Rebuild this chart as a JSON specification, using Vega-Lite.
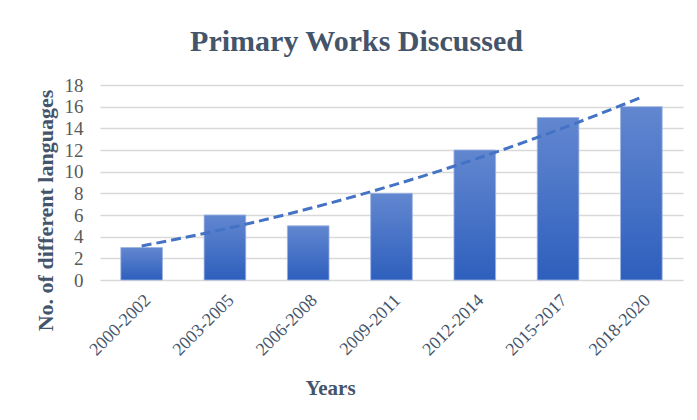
{
  "$schema": "https://vega.github.io/schema/vega-lite/v6.json",
  "autosize": "none",
  "width": 583,
  "height": 195,
  "padding": {"left": 100, "top": 85, "right": 14, "bottom": 140},
  "background": "white",
  "title": {
    "text": "Primary Works Discussed",
    "font": "Liberation Serif",
    "fontSize": 30,
    "fontWeight": "bold",
    "color": "#44546A",
    "anchor": "middle",
    "dx": -35,
    "offset": 19
  },
  "data": {
    "values": [
      {"period": "2000-2002", "count": 3, "trend": 3.14},
      {"period": "2003-2005", "count": 6, "trend": 4.71},
      {"period": "2006-2008", "count": 5, "trend": 6.57},
      {"period": "2009-2011", "count": 8, "trend": 8.71},
      {"period": "2012-2014", "count": 12, "trend": 11.14},
      {"period": "2015-2017", "count": 15, "trend": 13.86},
      {"period": "2018-2020", "count": 16, "trend": 16.86}
    ]
  },
  "encoding": {
    "x": {
      "field": "period",
      "type": "nominal",
      "sort": null,
      "scale": {"paddingInner": 0.5, "paddingOuter": 0.25},
      "axis": {
        "title": "Years",
        "labelAngle": -45,
        "labelAlign": "right",
        "labelBaseline": "top",
        "labelPadding": 11,
        "labelOverlap": false,
        "labelFont": "Liberation Serif",
        "labelFontSize": 18,
        "labelColor": "#44546A",
        "domain": false,
        "ticks": false,
        "titleFont": "Liberation Serif",
        "titleFontSize": 21,
        "titleFontWeight": "bold",
        "titleColor": "#44546A",
        "titleX": 230,
        "titleY": 108,
        "titleBaseline": "middle"
      }
    }
  },
  "layer": [
    {
      "mark": {
        "type": "bar",
        "color": {
          "gradient": "linear",
          "x1": 0, "y1": 0, "x2": 0, "y2": 1,
          "stops": [
            {"offset": 0, "color": "#6287D0"},
            {"offset": 1, "color": "#2E5FBD"}
          ]
        },
        "stroke": "#9CB2E2",
        "strokeWidth": 0.8
      },
      "encoding": {
        "y": {
          "field": "count",
          "type": "quantitative",
          "scale": {"domain": [0, 18], "nice": false},
          "axis": {
            "title": "No. of different languages",
            "values": [0, 2, 4, 6, 8, 10, 12, 14, 16, 18],
            "labelOverlap": false,
            "grid": true,
            "gridColor": "#D9D9D9",
            "gridWidth": 1.5,
            "domain": false,
            "ticks": false,
            "labelPadding": 17,
            "labelFont": "Liberation Serif",
            "labelFontSize": 19,
            "labelColor": "#595959",
            "titleFont": "Liberation Serif",
            "titleFontSize": 22,
            "titleFontWeight": "bold",
            "titleColor": "#44546A",
            "titleX": -55,
            "titleY": 125,
            "titleAlign": "center",
            "titleBaseline": "middle",
            "titleAngle": -90
          }
        }
      }
    },
    {
      "mark": {
        "type": "line",
        "color": "#4472C4",
        "strokeWidth": 3,
        "strokeDash": [10, 5],
        "interpolate": "monotone"
      },
      "encoding": {
        "y": {
          "field": "trend",
          "type": "quantitative",
          "scale": {"domain": [0, 18], "nice": false},
          "axis": {
            "title": "No. of different languages",
            "values": [0, 2, 4, 6, 8, 10, 12, 14, 16, 18],
            "labelOverlap": false,
            "grid": true,
            "gridColor": "#D9D9D9",
            "gridWidth": 1.5,
            "domain": false,
            "ticks": false,
            "labelPadding": 17,
            "labelFont": "Liberation Serif",
            "labelFontSize": 19,
            "labelColor": "#595959",
            "titleFont": "Liberation Serif",
            "titleFontSize": 22,
            "titleFontWeight": "bold",
            "titleColor": "#44546A",
            "titleX": -55,
            "titleY": 125,
            "titleAlign": "center",
            "titleBaseline": "middle",
            "titleAngle": -90
          }
        }
      }
    }
  ],
  "config": {
    "view": {"stroke": null},
    "font": "Liberation Serif"
  }
}
